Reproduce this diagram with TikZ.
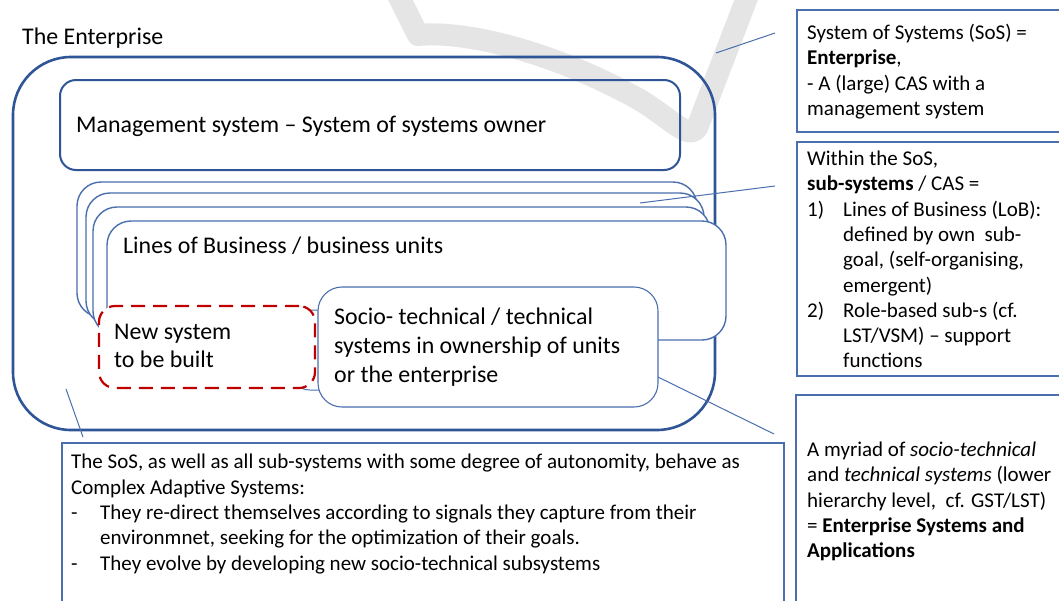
\documentclass[tikz,border=0pt]{standalone}
\usepackage{fontspec}
\setmainfont{Carlito}
\definecolor{entblue}{HTML}{2F5597}
\definecolor{lineblue}{HTML}{4A6FAE}
\definecolor{newred}{HTML}{C00000}
\tikzset{
  frame/.style={anchor=north west,inner sep=0pt,outer sep=0pt},
  encl/.style={frame,draw=entblue,rounded corners=#1},
  lobbox/.style={frame,draw=lineblue,fill=white,line width=1.4pt,rounded corners=24pt},
  callout/.style={frame,draw=lineblue,line width=1.2pt},
  bigtext/.style={inner sep=0pt,align=left,font=\fontsize{23.9}{29}\selectfont},
  notetext/.style={inner sep=0pt,align=left,font=\fontsize{21}{25.3}\selectfont},
  link/.style={draw=lineblue,line width=1pt},
}
\newcommand{\ind}[1]{\makebox[#1][l]{}}
\begin{document}
\begin{tikzpicture}[x=1pt,y=-1pt]
\path[use as bounding box,clip] (0,0) rectangle (1059,600);
\fill[white] (0,0) rectangle (1059,600);
% watermark
\draw[black!10,line width=22pt,line join=round]
  (398,-5) -- (418,35) .. controls (470,30) and (560,55) .. (640,100)
  .. controls (670,118) and (688,140) .. (697,128) -- (748,-5);
%
\node[bigtext,anchor=west] (title) at (22,38) {The Enterprise};
\node[encl=58pt,line width=2.6pt,minimum width=702pt,minimum height=373pt] (ent) at (13,57) {};
\node[encl=16pt,line width=2pt,minimum width=620pt,minimum height=90pt] (mgmt) at (60,80) {};
\node[bigtext,anchor=west] (mgmttext) at (76,126) {Management system -- System of systems owner};
% lines of business, stacked
\node[lobbox,minimum width=620pt,minimum height=135pt] (lob3) at (77,182) {};
\node[lobbox,minimum width=618pt,minimum height=132pt] (lob2) at (86,193) {};
\node[lobbox,minimum width=617pt,minimum height=128pt] (lob1) at (93,207) {};
\node[lobbox,minimum width=619pt,minimum height=119pt] (lob) at (107,221) {};
\node[bigtext,anchor=west] (lobtext) at (123,246) {Lines of Business / business units};
% systems
\node[frame,draw=lineblue,fill=white,line width=1pt,rounded corners=20pt,
  minimum width=350pt,minimum height=80pt] (sysback) at (290,310) {};
\node[frame,draw=newred,fill=white,line width=2.2pt,dash pattern=on 14pt off 8pt,
  rounded corners=16pt,minimum width=216pt,minimum height=82pt] (newsys) at (99,306) {};
\node[bigtext,anchor=west,font=\fontsize{23.9}{28}\selectfont] (newtext) at (114,346) {New system\\to be built};
\node[frame,draw=lineblue,fill=white,line width=1.1pt,rounded corners=24pt,
  minimum width=340pt,minimum height=120pt] (socio) at (318,287) {};
\node[bigtext,anchor=west] (sociotext) at (334,347)
  {Socio- technical / technical\\systems in ownership of units\\or the enterprise};
% notes
\node[callout,minimum width=300pt,minimum height=122pt] (noteA) at (797,10) {};
\node[notetext,anchor=west] (noteAtext) at (807,71.5)
  {System of Systems (SoS) =\\\textbf{Enterprise},\\- A (large) CAS with a\\management system};
\node[callout,minimum width=300pt,minimum height=234pt] (noteB) at (797,142) {};
\node[notetext,anchor=west] (noteBtext) at (807,259.5)
  {Within the SoS,\\\textbf{sub-systems} / CAS =\\
   \makebox[36pt][l]{1)}Lines of Business (LoB):\\
   \ind{36pt}defined by own\ \ sub-\\
   \ind{36pt}goal, (self-organising,\\
   \ind{36pt}emergent)\\
   \makebox[36pt][l]{2)}Role-based sub-s (cf.\\
   \ind{36pt}LST/VSM) -- support\\
   \ind{36pt}functions};
\node[callout,minimum width=300pt,minimum height=260pt] (noteC) at (796,395) {};
\node[notetext,anchor=west] (noteCtext) at (807,501.5)
  {A myriad of \textit{socio-technical}\\and \textit{technical systems} (lower\\
   hierarchy level,\ \ cf. GST/LST)\\= \textbf{Enterprise Systems and}\\\textbf{Applications}};
\node[callout,minimum width=722pt,minimum height=200pt] (noteD) at (62,443) {};
\node[notetext,anchor=west] (noteDtext) at (71,514)
  {The SoS, as well as all sub-systems with some degree of autonomity, behave as\\
   Complex Adaptive Systems:\\
   \makebox[29pt][l]{-}They re-direct themselves according to signals they capture from their\\
   \ind{29pt}environmnet, seeking for the optimization of their goals.\\
   \makebox[29pt][l]{-}They evolve by developing new socio-technical subsystems};
% connectors
\coordinate (entR) at (716,53);
\coordinate (toA) at (775,33);
\coordinate (lobR) at (640,203);
\coordinate (toB) at (775,186);
\coordinate (socioR) at (658,377);
\coordinate (toC) at (774,434);
\coordinate (entL) at (66,389);
\coordinate (toD) at (83,437);
\draw[link] (entR) -- (toA);
\draw[link] (lobR) -- (toB);
\draw[link] (socioR) -- (toC);
\draw[link] (entL) -- (toD);
\end{tikzpicture}
\end{document}
